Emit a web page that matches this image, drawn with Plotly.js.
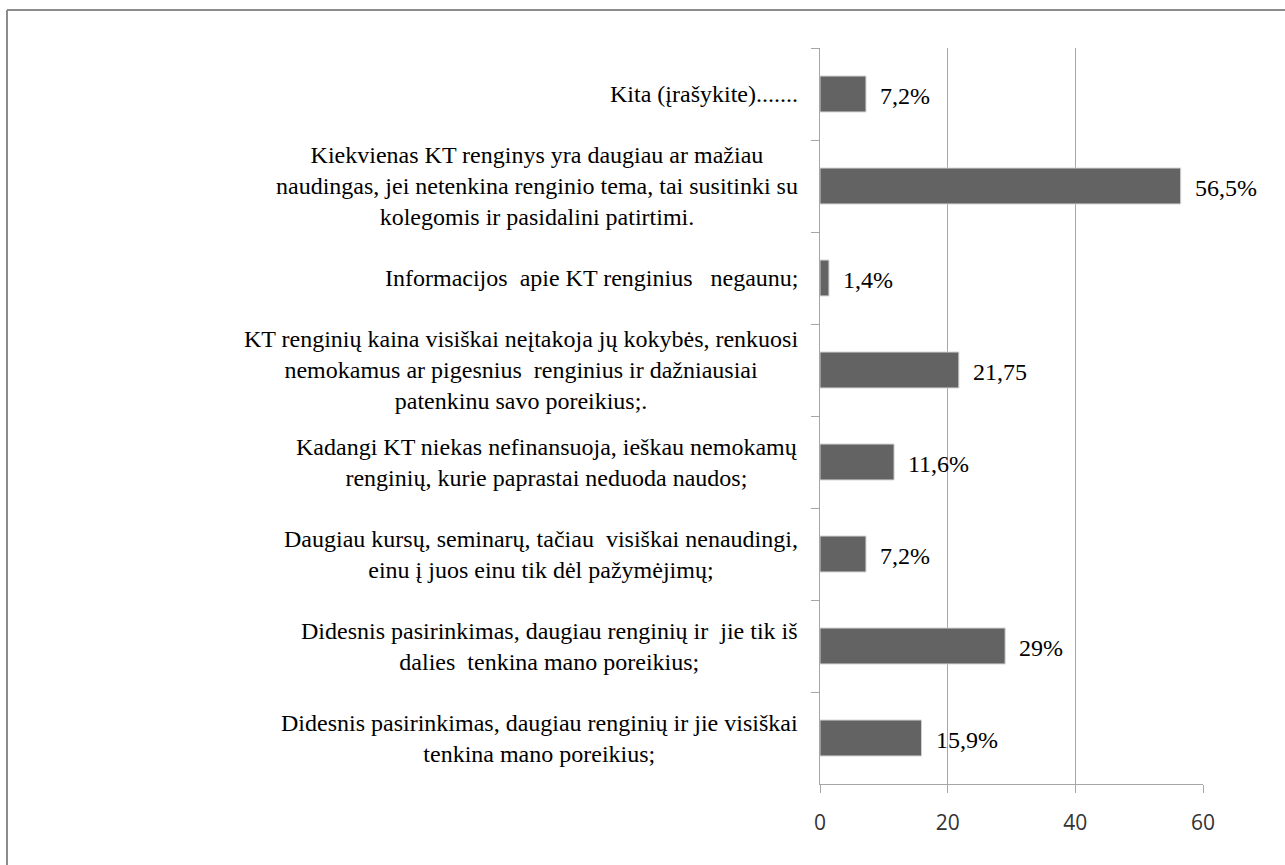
<!DOCTYPE html>
<html><head><meta charset="utf-8">
<script src="https://cdn.plot.ly/plotly-3.0.1.min.js"></script>
</head><body style="margin:0">
<div id="warm" style="position:absolute;left:300px;top:20px;z-index:0;font-family:'Liberation Serif';font-size:24px;color:#fff">Kita įrašykite ųėšžč 7,2%</div>
<div id="chart" style="position:relative;z-index:1;width:1285px;height:865px"></div>
<script>
// Categories listed top to bottom as in the picture
const categories = [
  "Kita (įrašykite).......",
  "Kiekvienas KT renginys yra daugiau ar mažiau<br>naudingas, jei netenkina renginio tema, tai susitinki su<br>kolegomis ir pasidalini patirtimi.",
  "Informacijos  apie KT renginius   negaunu;",
  "KT renginių kaina visiškai neįtakoja jų kokybės, renkuosi<br>nemokamus ar pigesnius  renginius ir dažniausiai<br>patenkinu savo poreikius;.",
  "Kadangi KT niekas nefinansuoja, ieškau nemokamų<br>renginių, kurie paprastai neduoda naudos;",
  "Daugiau kursų, seminarų, tačiau  visiškai nenaudingi,<br>einu į juos einu tik dėl pažymėjimų;",
  "Didesnis pasirinkimas, daugiau renginių ir  jie tik iš<br>dalies  tenkina mano poreikius;",
  "Didesnis pasirinkimas, daugiau renginių ir jie visiškai<br>tenkina mano poreikius;"
];
const values = [7.2, 56.5, 1.4, 21.75, 11.6, 7.2, 29, 15.9];
const valueLabels = ["7,2%", "56,5%", "1,4%", "21,75", "11,6%", "7,2%", "29%", "15,9%"];
const xTicks = [0, 20, 40, 60];

const ids = categories.map((c, i) => "c" + i);

function buildAnnotations() {
  const annotations = [];
  categories.forEach((c, i) => {
    annotations.push({
      xref: "paper", yref: "y", x: 0, y: ids[i],
      xanchor: "right", yanchor: "middle", xshift: -20,
      text: c, align: "center", showarrow: false,
      font: { family: "Liberation Serif", size: 24, color: "#000" }
    });
    annotations.push({
      xref: "x", yref: "y", x: values[i], y: ids[i],
      xanchor: "left", yanchor: "middle", xshift: 12, yshift: -2,
      text: valueLabels[i], showarrow: false,
      font: { family: "Liberation Serif", size: 24, color: "#000" }
    });
  });
  return annotations;
}

const trace = {
  type: "bar",
  orientation: "h",
  y: ids,
  x: values,
  width: 0.39,
  marker: { color: "#636363", line: { color: "#d0d0d0", width: 1 } },
  hoverinfo: "skip"
};

// outer frame (left and top edges visible in the reference)
const frame = { color: "#8c8c8c", width: 2 };
const shapes = [
  { type: "line", xref: "paper", yref: "paper", x0: -2.1227, x1: -2.1227, y0: 1.0516, y1: -0.2, line: frame },
  { type: "line", xref: "paper", yref: "paper", x0: -2.1227, x1: 1.3, y0: 1.0516, y1: 1.0516, line: frame }
];

const layout = {
  width: 1285, height: 865,
  margin: { l: 820, r: 82, t: 48, b: 81, pad: 0 },
  paper_bgcolor: "#fff", plot_bgcolor: "#fff",
  showlegend: false,
  xaxis: {
    range: [0, 60],
    tickvals: xTicks,
    ticktext: xTicks.map(String),
    showgrid: true, gridcolor: "#a6a6a6", gridwidth: 1,
    zeroline: false,
    showline: true, linecolor: "#a6a6a6", linewidth: 1,
    ticks: "outside", ticklen: 8, tickcolor: "#a6a6a6", tickwidth: 1,
    ticklabelstandoff: 12,
    tickfont: { family: "Open Sans", size: 21, color: "#333" },
    fixedrange: true
  },
  yaxis: {
    type: "category",
    categoryorder: "array",
    categoryarray: ids,
    autorange: "reversed",
    showticklabels: false,
    showgrid: false, zeroline: false,
    showline: true, linecolor: "#a6a6a6", linewidth: 1,
    ticks: "outside", ticklen: 8, tickcolor: "#a6a6a6", tickwidth: 1,
    tickson: "boundaries",
    fixedrange: true
  },
  shapes: shapes,
  annotations: buildAnnotations()
};

Plotly.newPlot("chart", [trace], layout, { displayModeBar: false }).then(function () {
  const redo = function () { Plotly.relayout("chart", { annotations: buildAnnotations() }); };
  if (document.fonts && document.fonts.ready) {
    document.fonts.ready.then(function () { setTimeout(redo, 50); });
  }
});
</script>
</body></html>
